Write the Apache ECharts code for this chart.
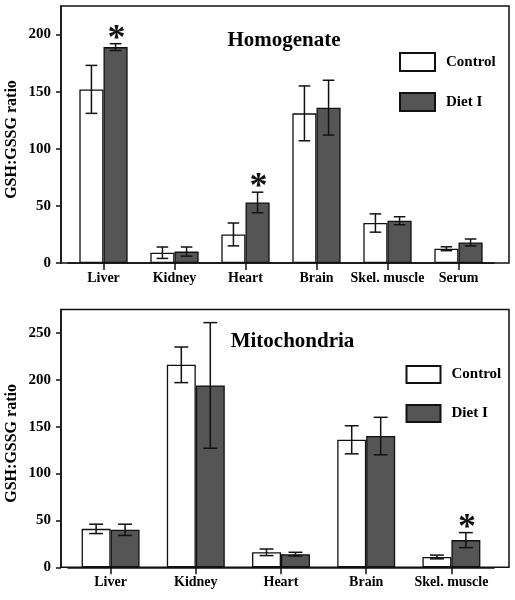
<!DOCTYPE html>
<html>
<head>
<meta charset="utf-8">
<script src="https://cdn.jsdelivr.net/npm/echarts@6/dist/echarts.min.js"></script>
<style>
html,body{margin:0;padding:0;background:#fff;}
#chart{width:515px;height:600px;}
</style>
</head>
<body>
<div id="chart"></div>
<script>
// ---- Data ----
const categoriesTop = ['Liver', 'Kidney', 'Heart', 'Brain', 'Skel. muscle', 'Serum'];
const controlTop = [152, 9, 25, 131, 35, 12.5];
const controlTopErr = [21, 5, 10, 24, 8, 1.7];
const dietTop = [189, 10, 53, 136, 37, 18];
const dietTopErr = [3, 4, 9, 24, 3.5, 3];
const dietTopSig = [1, 0, 1, 0, 0, 0];

const categoriesBottom = ['Liver', 'Kidney', 'Heart', 'Brain', 'Skel. muscle'];
const controlBottom = [41, 216, 16, 136, 11];
const controlBottomErr = [5, 19, 3.5, 15, 2];
const dietBottom = [40, 194, 14, 140, 29];
const dietBottomErr = [6, 67, 2, 20, 8];
const dietBottomSig = [0, 0, 0, 0, 1];

const titleTop = 'Homogenate';
const titleBottom = 'Mitochondria';
const yName = 'GSH:GSSG ratio';
const seriesNames = ['Control', 'Diet I'];

// ---- Styles ----
const FONT = '"Liberation Serif", "Times New Roman", serif';
const INK = '#111';
const DARK = '#555555';
const BAR_FRAC = 0.34;

function errData(vals, errs, sig) {
  return vals.map((v, i) => [i, v, errs[i], sig ? sig[i] : 0]);
}

function makeErrRender(side) {
  return function (params, api) {
    const i = api.value(0), v = api.value(1), e = api.value(2), s = api.value(3);
    const c = api.coord([i, v]);
    const bw = api.size([1, 0])[0] * BAR_FRAC;
    const x = c[0] + side * bw / 2;
    const hi = api.coord([i, v + e])[1];
    const lo = api.coord([i, v - e])[1];
    const cap = bw * 0.24;
    const st = { stroke: INK, lineWidth: 1.5 };
    const children = [
      { type: 'line', shape: { x1: x, y1: hi, x2: x, y2: lo }, style: st },
      { type: 'line', shape: { x1: x - cap, y1: hi, x2: x + cap, y2: hi }, style: st },
      { type: 'line', shape: { x1: x - cap, y1: lo, x2: x + cap, y2: lo }, style: st }
    ];
    if (s) {
      children.push({
        type: 'text',
        style: { text: '*', x: x + 1, y: hi + 14, align: 'center', verticalAlign: 'bottom',
          font: 'bold 36px ' + FONT, fill: INK }
      });
    }
    return { type: 'group', children: children };
  };
}

function frameY(gi, max) {
  return {
    gridIndex: gi, type: 'value', min: 0, max: max, interval: 50,
    name: yName, nameLocation: 'middle', nameRotate: 90, nameGap: 41, nameMoveOverlap: false,
    nameTextStyle: { color: '#000', fontFamily: FONT, fontWeight: 'bold', fontSize: 16, padding: [0, 10, 0, 0] },
    axisLine: { show: true, lineStyle: { color: INK, width: 1.5 } },
    axisTick: { show: true, length: 5, lineStyle: { color: INK, width: 1.5 } },
    axisLabel: { color: '#000', fontFamily: FONT, fontWeight: 'bold', fontSize: 15, margin: 10,
      showMaxLabel: false },
    splitLine: { show: false }
  };
}

function hiddenX(gi) {
  return { gridIndex: gi, type: 'value', show: false };
}

function dataX(gi, cats) {
  return {
    gridIndex: gi, type: 'category', data: cats,
    axisLine: { show: true, lineStyle: { color: INK, width: 1.5 } },
    axisTick: { show: true, alignWithLabel: true, length: 7, lineStyle: { color: INK, width: 1.5 } },
    axisLabel: { color: '#000', fontFamily: FONT, fontWeight: 'bold', fontSize: 14, margin: 8, interval: 0 },
    splitLine: { show: false }
  };
}

function dataY(gi, max) {
  return { gridIndex: gi, type: 'value', min: 0, max: max, interval: 50, show: false };
}

function barSeries(name, xi, yi, data, color) {
  return {
    name: name, type: 'bar', xAxisIndex: xi, yAxisIndex: yi, data: data,
    barWidth: (BAR_FRAC * 100) + '%', barGap: '0%',
    itemStyle: { color: color, borderColor: INK, borderWidth: 1.3 },
    emphasis: { disabled: true }, z: 2
  };
}

function errSeries(name, xi, yi, data, side) {
  return {
    name: name, type: 'custom', xAxisIndex: xi, yAxisIndex: yi,
    data: data, encode: { x: 0, y: 1 }, renderItem: makeErrRender(side), z: 5, silent: true
  };
}

const option = {
  animation: false,
  backgroundColor: '#fff',
  title: [
    { text: titleTop, left: 284, top: 30, textAlign: 'center', padding: 0,
      textStyle: { fontFamily: FONT, fontWeight: 'bold', fontSize: 21, color: '#000' } },
    { text: titleBottom, left: 292.5, top: 331, textAlign: 'center', padding: 0,
      textStyle: { fontFamily: FONT, fontWeight: 'bold', fontSize: 21, color: '#000' } }
  ],
  legend: [
    { data: seriesNames, orient: 'vertical', left: 399, top: 52, padding: 0,
      itemWidth: 35, itemHeight: 18, itemGap: 20, icon: 'rect', selectedMode: false,
      textStyle: { fontFamily: FONT, fontWeight: 'bold', fontSize: 15, color: '#000', padding: [0, 0, 0, 6] } },
    { data: seriesNames, orient: 'vertical', left: 405.5, top: 365, padding: 0,
      itemWidth: 34, itemHeight: 17, itemGap: 20, icon: 'rect', selectedMode: false,
      textStyle: { fontFamily: FONT, fontWeight: 'bold', fontSize: 15, color: '#000', padding: [0, 0, 0, 6] } }
  ],
  grid: [
    { left: 61, right: 6, top: 6, bottom: 337, show: true, borderColor: INK, borderWidth: 1.5,
      backgroundColor: 'transparent', containLabel: false, outerBoundsMode: 'none' },
    { left: 68, right: 21, top: 6, bottom: 337, containLabel: false, outerBoundsMode: 'none' },
    { left: 61, right: 6, top: 309.5, bottom: 32.7, show: true, borderColor: INK, borderWidth: 1.5,
      backgroundColor: 'transparent', containLabel: false, outerBoundsMode: 'none' },
    { left: 68, right: 21, top: 309.5, bottom: 32.7, containLabel: false, outerBoundsMode: 'none' }
  ],
  xAxis: [hiddenX(0), dataX(1, categoriesTop), hiddenX(2), dataX(3, categoriesBottom)],
  yAxis: [frameY(0, 225), dataY(1, 225), frameY(2, 275), dataY(3, 275)],
  series: [
    barSeries('Control', 1, 1, controlTop, '#fff'),
    barSeries('Diet I', 1, 1, dietTop, DARK),
    errSeries('errCT', 1, 1, errData(controlTop, controlTopErr), -1),
    errSeries('errDT', 1, 1, errData(dietTop, dietTopErr, dietTopSig), 1),
    barSeries('Control', 3, 3, controlBottom, '#fff'),
    barSeries('Diet I', 3, 3, dietBottom, DARK),
    errSeries('errCB', 3, 3, errData(controlBottom, controlBottomErr), -1),
    errSeries('errDB', 3, 3, errData(dietBottom, dietBottomErr, dietBottomSig), 1)
  ]
};

const chart = echarts.init(document.getElementById('chart'), null, { renderer: 'canvas' });
chart.setOption(option);
</script>
</body>
</html>
